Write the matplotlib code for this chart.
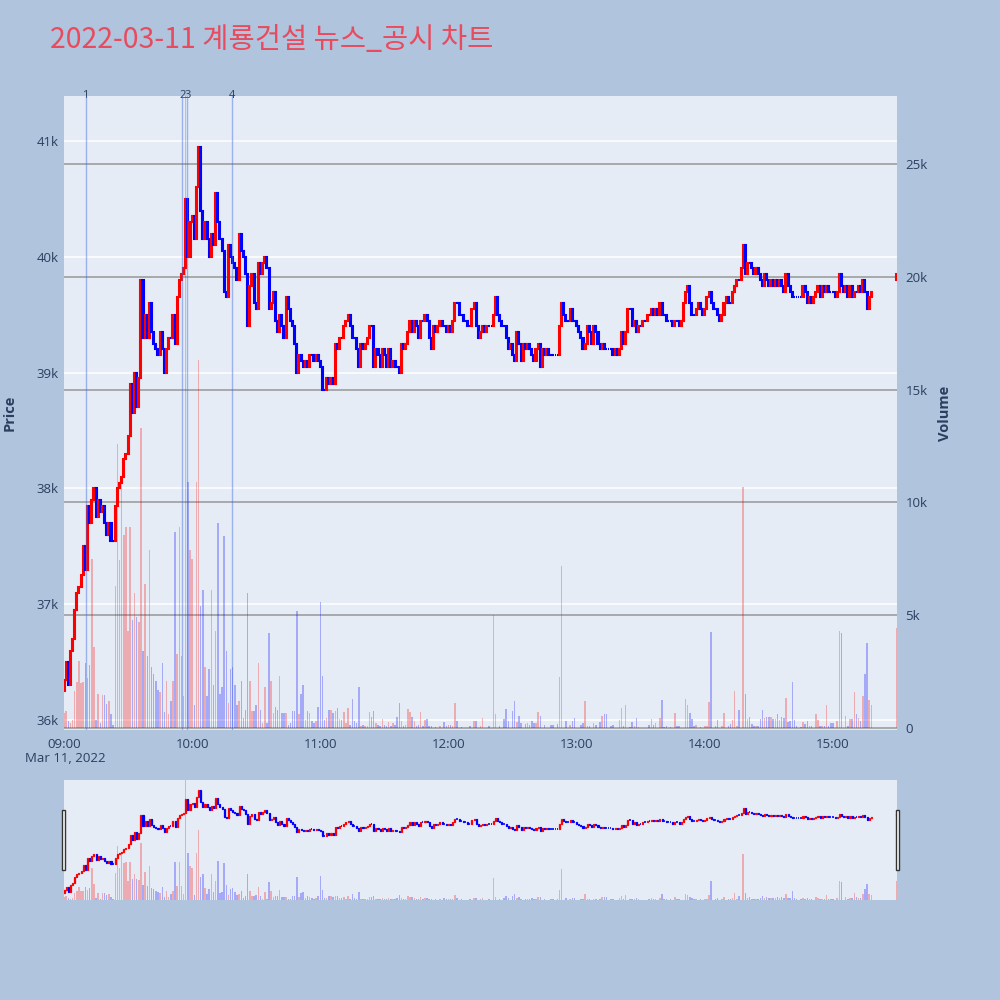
import matplotlib
matplotlib.use('Agg')
import matplotlib.pyplot as plt
from matplotlib.patches import Rectangle
from matplotlib.transforms import blended_transform_factory

# ---- data (1-minute bars, minute 0 = 09:00, minute 390 = 15:30 closing auction) ----
title = '2022-03-11 계룡건설 뉴스_공시 차트'
first_open = 36250
auction_open = 39800

closes = [
    36350, 36500, 36300, 36600, 36700, 36950, 37100, 37150, 37250, 37500,
    37300, 37850, 37700, 37900, 38000, 37750, 37900, 37800, 37850, 37700,
    37600, 37700, 37550, 37550, 37850, 38000, 38050, 38100, 38250, 38300,
    38450, 38900, 38650, 39000, 38700, 38950, 39800, 39300, 39500, 39300,
    39600, 39350, 39250, 39200, 39150, 39350, 39200, 39000, 39200, 39300,
    39300, 39500, 39250, 39650, 39800, 39850, 39900, 40500, 40000, 40300,
    40350, 40150, 40600, 40950, 40400, 40150, 40300, 40150, 40000, 40200,
    40100, 40550, 40300, 40150, 40050, 39700, 39650, 40100, 40000, 39950,
    39900, 39800, 40200, 40050, 40000, 39850, 39400, 39750, 39850, 39600,
    39550, 39950, 39850, 39950, 40000, 39900, 39550, 39600, 39700, 39450,
    39350, 39500, 39400, 39300, 39650, 39550, 39450, 39400, 39250, 39000,
    39150, 39100, 39050, 39100, 39050, 39150, 39150, 39100, 39150, 39100,
    39050, 38850, 38850, 38950, 38900, 38950, 38900, 39250, 39200, 39300,
    39300, 39400, 39450, 39500, 39400, 39300, 39300, 39200, 39050, 39250,
    39200, 39250, 39300, 39400, 39400, 39050, 39200, 39150, 39050, 39200,
    39150, 39050, 39200, 39050, 39100, 39050, 39050, 39000, 39250, 39200,
    39250, 39350, 39450, 39350, 39450, 39400, 39300, 39450, 39450, 39500,
    39450, 39300, 39200, 39400, 39350, 39400, 39450, 39400, 39400, 39350,
    39400, 39350, 39450, 39600, 39600, 39500, 39500, 39450, 39450, 39400,
    39400, 39550, 39600, 39400, 39300, 39350, 39400, 39350, 39400, 39400,
    39400, 39500, 39650, 39500, 39450, 39400, 39400, 39300, 39200, 39250,
    39150, 39100, 39350, 39250, 39100, 39250, 39200, 39250, 39200, 39150,
    39100, 39200, 39250, 39050, 39200, 39150, 39200, 39150, 39150, 39150,
    39150, 39150, 39400, 39600, 39500, 39450, 39450, 39550, 39450, 39450,
    39400, 39350, 39300, 39200, 39250, 39400, 39350, 39250, 39400, 39350,
    39250, 39200, 39250, 39200, 39200, 39200, 39200, 39150, 39200, 39150,
    39200, 39350, 39250, 39350, 39550, 39550, 39400, 39450, 39350, 39400,
    39400, 39450, 39450, 39500, 39500, 39550, 39500, 39550, 39500, 39600,
    39500, 39500, 39450, 39450, 39450, 39400, 39450, 39450, 39400, 39450,
    39600, 39700, 39750, 39600, 39500, 39500, 39550, 39600, 39550, 39500,
    39550, 39650, 39700, 39600, 39550, 39550, 39500, 39450, 39500, 39600,
    39650, 39600, 39600, 39700, 39750, 39800, 39800, 39900, 40100, 39850,
    39950, 39950, 39900, 39850, 39900, 39850, 39800, 39750, 39850, 39800,
    39750, 39800, 39750, 39800, 39750, 39800, 39750, 39700, 39850, 39750,
    39700, 39650, 39650, 39650, 39650, 39650, 39750, 39700, 39600, 39650,
    39600, 39650, 39700, 39750, 39650, 39750, 39700, 39750, 39700, 39700,
    39700, 39650, 39700, 39850, 39750, 39700, 39750, 39650, 39750, 39650,
    39700, 39700, 39750, 39700, 39800, 39700, 39550, 39650, 39700,
    39850,
]

volumes = [
    650, 750, 300, 200, 350, 1650, 2050, 2950, 2000, 2050,
    2900, 2200, 2800, 7500, 3600, 350, 1500, 200, 1450, 1450,
    1050, 1200, 600, 150, 6300, 12600, 7450, 11100, 8550, 8900,
    4300, 8900, 4800, 6000, 4900, 4700, 13300, 3400, 6400, 3200,
    7900, 2700, 2400, 2100, 1700, 1600, 2900, 700, 2100, 600,
    1200, 2100, 8700, 3300, 8900, 3200, 1400, 28000, 10900, 7900,
    7500, 1000, 10900, 16300, 5400, 6100, 2700, 1400, 2600, 6100,
    1900, 4300, 9100, 1500, 1800, 8500, 3400, 1100, 2600, 2700,
    1900, 1000, 1200, 2100, 450, 800, 6000, 2100, 750, 750,
    1000, 2900, 800, 200, 1800, 200, 4200, 2100, 650, 950,
    800, 2300, 650, 650, 650, 150, 200, 750, 750, 5200,
    600, 1500, 1900, 350, 750, 650, 300, 200, 300, 950,
    5600, 2300, 350, 450, 800, 800, 650, 750, 900, 400,
    370, 700, 220, 900, 150, 1300, 300, 200, 1800, 100,
    150, 100, 100, 700, 500, 750, 220, 150, 100, 400,
    150, 100, 270, 100, 220, 150, 470, 1100, 300, 100,
    150, 850, 700, 500, 330, 100, 150, 700, 100, 370,
    400, 100, 100, 0, 50, 0, 100, 0, 270, 70,
    150, 150, 100, 1100, 330, 0, 50, 0, 0, 0,
    70, 0, 300, 300, 0, 100, 450, 0, 0, 70,
    0, 5000, 600, 0, 100, 0, 400, 850, 330, 0,
    770, 1200, 270, 550, 200, 0, 180, 220, 120, 330,
    200, 220, 700, 550, 0, 150, 0, 0, 120, 150,
    0, 180, 2250, 7200, 0, 330, 0, 150, 300, 450,
    0, 0, 120, 220, 1200, 100, 70, 0, 200, 120,
    0, 250, 550, 620, 620, 0, 100, 120, 0, 0,
    370, 900, 70, 1000, 0, 50, 250, 70, 450, 50,
    0, 0, 0, 0, 150, 400, 120, 220, 0, 450,
    1250, 50, 100, 0, 50, 0, 650, 70, 100, 0,
    0, 1300, 1000, 650, 400, 100, 120, 0, 30, 0,
    70, 70, 1150, 4250, 0, 70, 350, 0, 70, 650,
    0, 100, 180, 370, 1650, 70, 800, 0, 10700, 1500,
    400, 500, 180, 100, 100, 100, 400, 800, 450, 500,
    470, 470, 400, 400, 600, 370, 500, 450, 1350, 270,
    330, 2050, 370, 70, 0, 30, 270, 180, 300, 100,
    100, 0, 630, 350, 100, 70, 100, 1000, 70, 220,
    220, 0, 300, 4300, 4200, 0, 530, 100, 400, 400,
    1600, 600, 450, 300, 1400, 2400, 3750, 1250, 1000,
    4450,
]

minutes = list(range(len(closes) - 1)) + [390]

event_minutes = [10.1, 55.4, 57.7, 78.8]
event_labels = ['1', '2', '3', '4']

price_ticks = [36000, 37000, 38000, 39000, 40000, 41000]
price_labels = ['36k', '37k', '38k', '39k', '40k', '41k']
vol_ticks = [0, 5000, 10000, 15000, 20000, 25000]
vol_labels = ['0', '5k', '10k', '15k', '20k', '25k']
time_ticks = [0, 60, 120, 180, 240, 300, 360]
time_labels = ['09:00', '10:00', '11:00', '12:00', '13:00', '14:00', '15:00']

PRICE_LIM = (35914, 41389)
VOL_LIM = (-90, 28010)
X_LIM = (0, 390)

# ---- derived ----
opens = [first_open] + closes[:-1]
opens[-1] = auction_open
up = [c > o for o, c in zip(opens, closes)]

RED = '#FF0000'
BLUE = '#0000FF'
TXT = '#2a3f5f'
PLOT_BG = '#E5ECF6'

plt.rcParams['font.family'] = ['Open Sans', 'Noto Sans CJK KR', 'DejaVu Sans']


def draw_candles(ax, lw, doji_lw):
    for m, o, c, u in zip(minutes, opens, closes, up):
        col = RED if u else BLUE
        if o == c:
            # flat minute: short tick, like plotly's zero-height box
            hl = ax.hlines(c, m - 0.3, m + 0.3, color=col, lw=doji_lw, zorder=3)
            hl.set_capstyle('butt')
        else:
            ax.bar(m, c - o, bottom=o, width=0.5, color=col, edgecolor=col,
                   linewidth=lw, zorder=3)


def draw_volume(ax):
    cols = [RED if u else BLUE for u in up]
    ax.bar(minutes, volumes, width=0.7, color=cols, alpha=0.28,
           linewidth=0, zorder=2)


fig = plt.figure(figsize=(10, 10), dpi=100)
fig.patch.set_facecolor('#B0C4DE')

# ---- main panel ----
axv = fig.add_axes([0.064, 0.27, 0.833, 0.634])
axv.set_facecolor(PLOT_BG)
axp = axv.twinx()

draw_volume(axv)
draw_candles(axp, 1.5, 1.5)

axv.set_xlim(*X_LIM)
axv.set_ylim(*VOL_LIM)
axp.set_ylim(*PRICE_LIM)

# gridlines: white for price, grey for volume (both under the data)
for p in price_ticks:
    f = (p - PRICE_LIM[0]) / (PRICE_LIM[1] - PRICE_LIM[0])
    axv.plot([0, 1], [f, f], transform=axv.transAxes, color='white',
             lw=1.1, zorder=0.4)
axv.set_yticks(vol_ticks)
axv.set_yticklabels(vol_labels)
axv.grid(axis='y', color='#A3A3A3', lw=1.3)
axv.set_axisbelow(True)

axv.yaxis.tick_right()
axp.yaxis.tick_left()
axp.set_yticks(price_ticks)
axp.set_yticklabels(price_labels)

axv.set_xticks(time_ticks)
axv.set_xticklabels(time_labels)

for a in (axv, axp):
    for s in a.spines.values():
        s.set_visible(False)
    a.tick_params(length=0, labelsize=9.5, colors=TXT)
axv.tick_params(axis='y', pad=6)
axp.tick_params(axis='y', pad=4)
axv.tick_params(axis='x', pad=6)

# news / disclosure markers
tr = blended_transform_factory(axp.transData, axp.transAxes)
for m, lab in zip(event_minutes, event_labels):
    axp.axvline(m, color='#4169E1', alpha=0.45, lw=1, zorder=6)
    axp.text(m, 1.0, lab, transform=tr, ha='center', va='center',
             fontsize=8, color=TXT, clip_on=False)

fig.text(0.065, 0.242, 'Mar 11, 2022', ha='center', va='center',
         fontsize=9.5, color=TXT)
fig.text(0.010, 0.587, 'Price', rotation=90, ha='center', va='center',
         fontsize=10.5, fontweight='bold', color=TXT)
fig.text(0.945, 0.587, 'Volume', rotation=90, ha='center', va='center',
         fontsize=10.5, fontweight='bold', color=TXT)

fig.text(0.05, 0.96, title, ha='left', va='center', fontsize=20.5,
         color='#E84B5E', family=['Noto Sans CJK KR', 'DejaVu Sans'])

# ---- range slider ----
asv = fig.add_axes([0.064, 0.10, 0.833, 0.12])
asv.set_facecolor(PLOT_BG)
asp = asv.twinx()
draw_volume(asv)
draw_candles(asp, 0.9, 1.2)
asv.set_xlim(*X_LIM)
asv.set_ylim(*VOL_LIM)
asp.set_ylim(*PRICE_LIM)
for a in (asv, asp):
    a.set_xticks([])
    a.set_yticks([])
    for s in a.spines.values():
        s.set_visible(False)

for hx in (0.0615, 0.8955):
    fig.patches.append(Rectangle((hx, 0.13), 0.0035, 0.06,
                                 transform=fig.transFigure, facecolor='white',
                                 edgecolor='#333333', lw=1, zorder=10))

fig.savefig('out.png', dpi=100, facecolor=fig.get_facecolor())
